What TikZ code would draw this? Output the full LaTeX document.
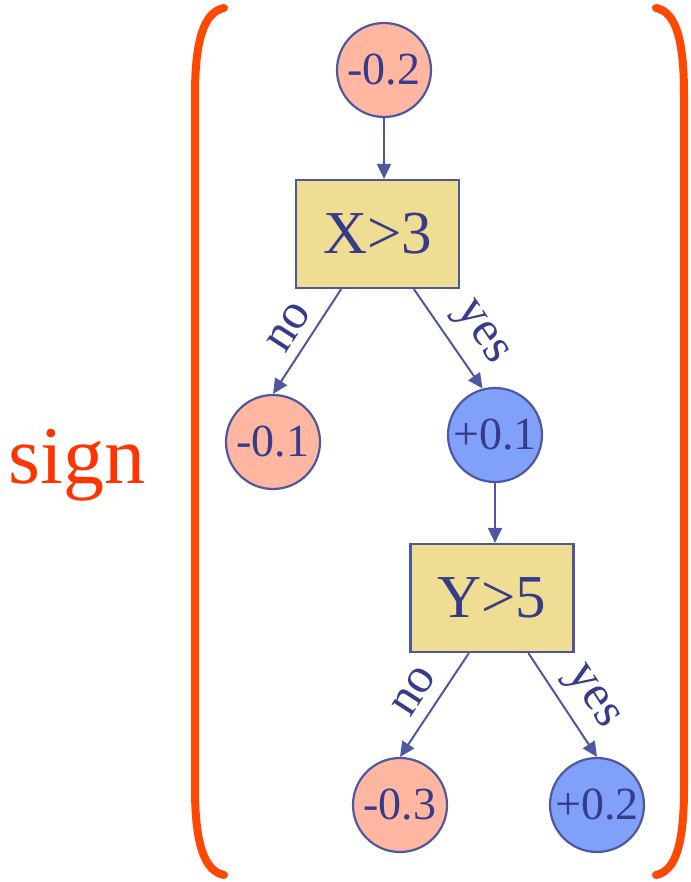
\documentclass[tikz,border=0pt]{standalone}
\usepackage{fontspec}
\setmainfont{Liberation Serif}
\usetikzlibrary{arrows.meta,calc}
\definecolor{navy}{RGB}{78,88,160}
\definecolor{txtnavy}{RGB}{55,60,138}
\definecolor{pinkfill}{RGB}{255,183,162}
\definecolor{bluefill}{RGB}{128,160,250}
\definecolor{boxfill}{RGB}{238,221,146}
\definecolor{signred}{RGB}{255,52,0}
\definecolor{parenred}{RGB}{255,72,0}
\tikzset{
  leaf/.style={circle, draw=navy, line width=2.2pt, minimum size=94pt, inner sep=0pt,
    text=txtnavy, font=\fontsize{46}{50}\selectfont},
  negleaf/.style={leaf, fill=pinkfill},
  posleaf/.style={leaf, fill=bluefill},
  testbox/.style={rectangle, draw=navy, line width=2.2pt, fill=boxfill, minimum width=163pt,
    minimum height=108pt, inner sep=0pt, text=txtnavy, font=\fontsize{61}{66}\selectfont},
  edgeline/.style={draw=navy, line width=2pt, -{Triangle[length=15pt,width=14pt]}},
  lbl/.style={text=txtnavy, inner sep=0pt, font=\fontsize{50}{54}\selectfont},
  paren/.style={draw=parenred, line width=8pt, line cap=round}
}
\begin{document}
\begin{tikzpicture}[x=1pt,y=-1pt]
\useasboundingbox (0,0) rectangle (690,882);
% parentheses
\draw[paren] (224,8) .. controls (204,12) and (195,40) .. (195,95) -- (195,788) .. controls (195,843) and (204,871) .. (224,875);
\draw[paren] (656,8) .. controls (676,12) and (684,40) .. (684,95) -- (684,788) .. controls (684,843) and (676,871) .. (656,875);
% sign
\node[text=signred, font=\fontsize{82}{90}\selectfont, inner sep=0pt, anchor=base] (sign) at (77,483) {sign};
% nodes
\node[negleaf] (root) at (384,70) {-0.2};
\node[testbox] (bx) at (377.5,234) {X>3};
\node[negleaf] (l1) at (273,442) {-0.1};
\node[posleaf] (r1) at (495,435) {+0.1};
\node[testbox] (by) at (492,598) {Y>5};
\node[negleaf] (l2) at (400,805) {-0.3};
\node[posleaf] (r2) at (597,805) {+0.2};
% edges
\draw[edgeline] (root.south) -- (root.south |- bx.north);
\draw[edgeline] ($(bx.south west)!0.28!(bx.south east)$) -- (l1.north);
\draw[edgeline] ($(bx.south west)!0.72!(bx.south east)$) -- (r1.105);
\draw[edgeline] (r1.south) -- (r1.south |- by.north);
\draw[edgeline] ($(by.south west)!0.36!(by.south east)$) -- (l2.north);
\draw[edgeline] ($(by.south west)!0.72!(by.south east)$) -- (r2.north);
% labels
\node[lbl, rotate=57] (no1) at (289,327) {no};
\node[lbl, rotate=-56] (yes1) at (479,334) {yes};
\node[lbl, rotate=57] (no2) at (414,691) {no};
\node[lbl, rotate=-57] (yes2) at (590,698) {yes};
\end{tikzpicture}
\end{document}
